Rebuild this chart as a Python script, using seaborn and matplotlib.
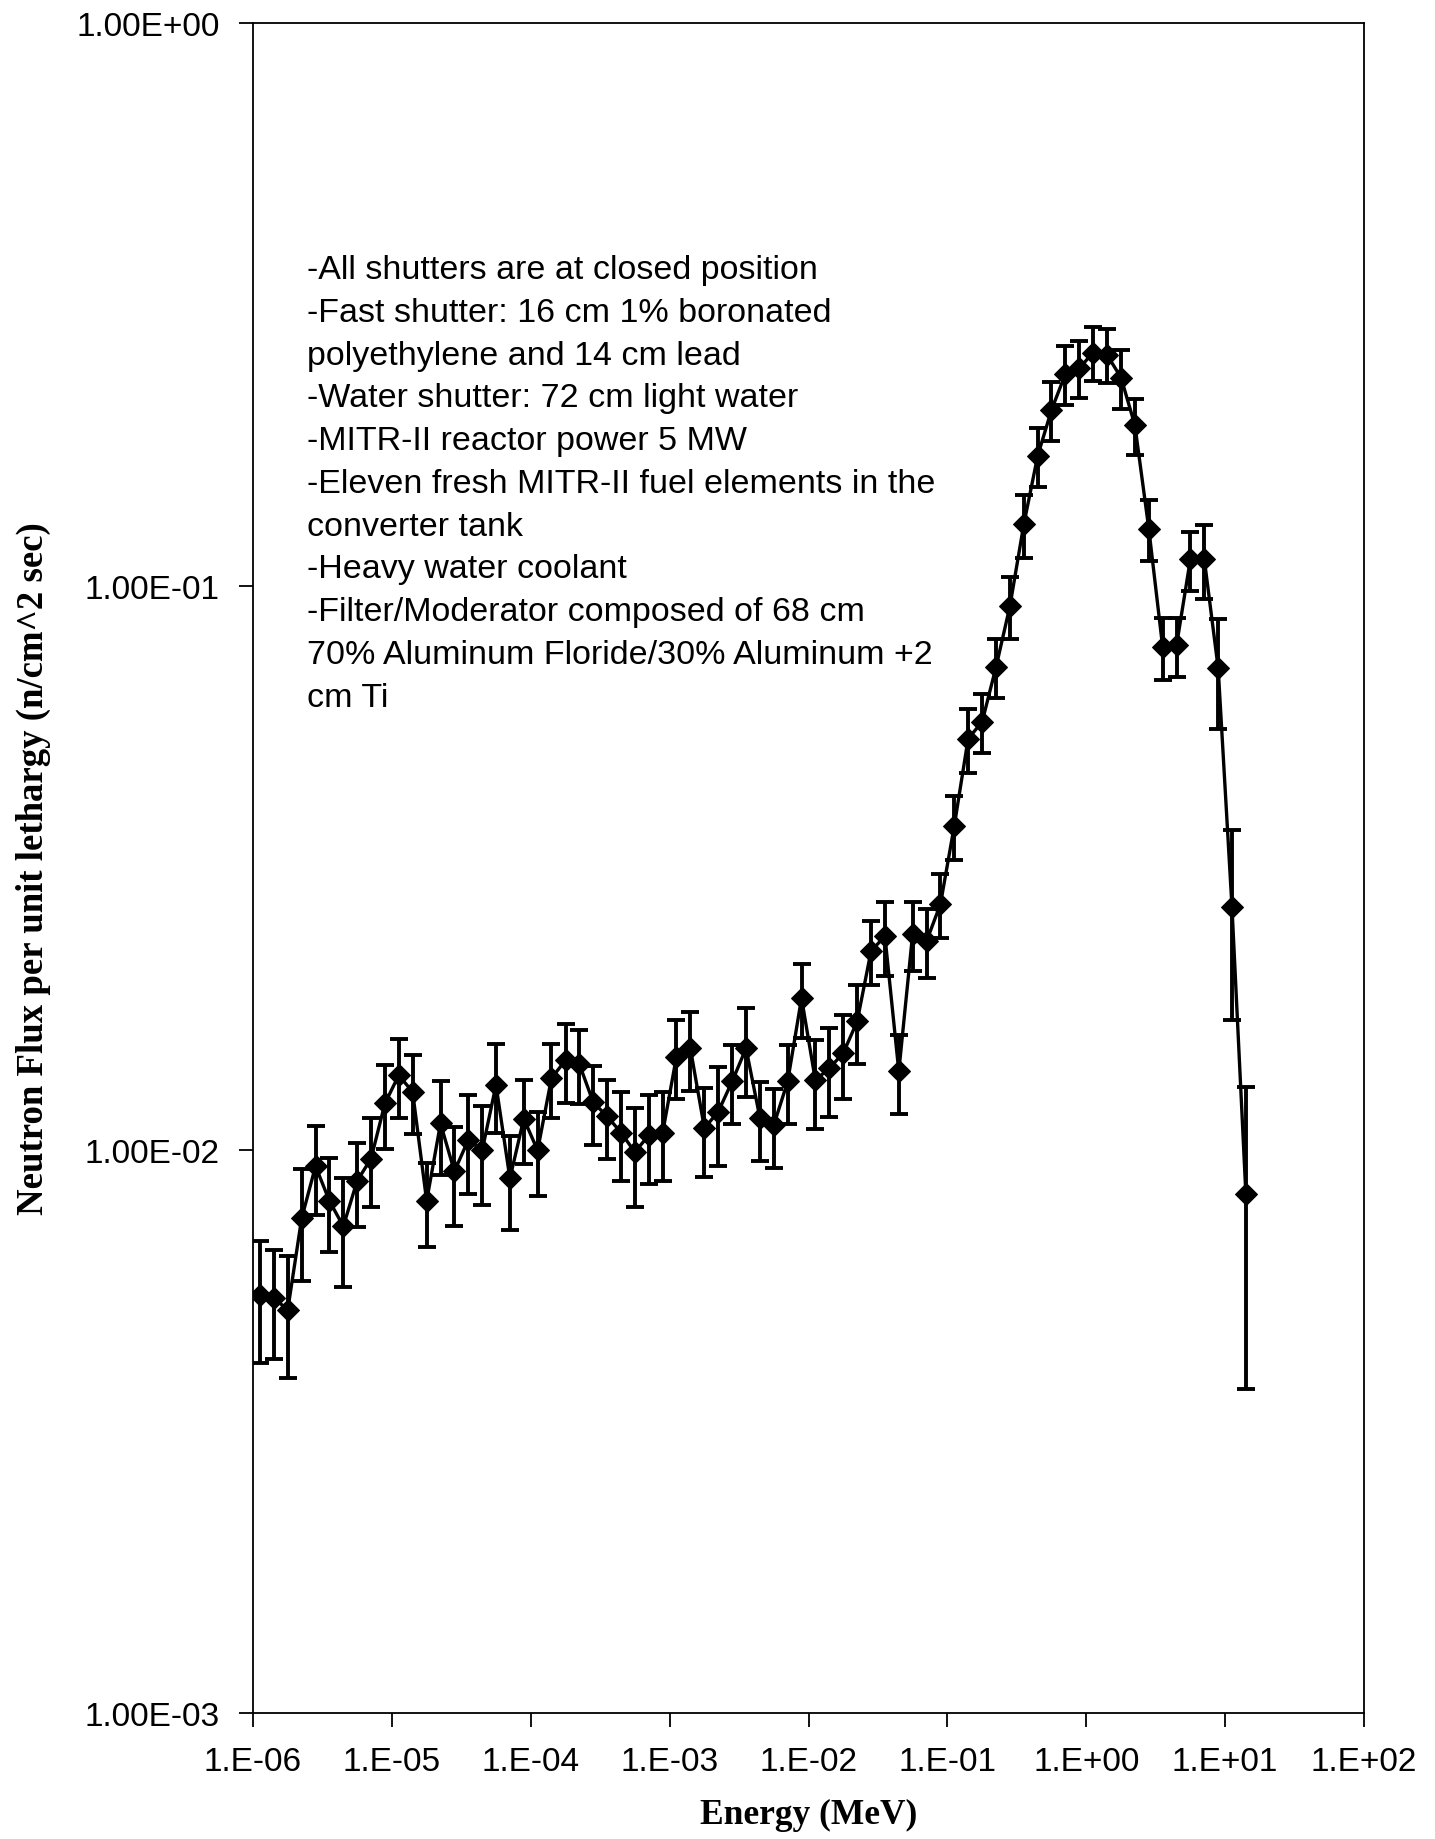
import matplotlib
matplotlib.use("Agg")
import matplotlib.pyplot as plt
from matplotlib.ticker import FixedLocator, FuncFormatter, NullLocator
import numpy as np
import pandas as pd
import seaborn as sns

# Bin-centre energies (MeV), ten bins per decade
energy_mev = [
    1.12e-06, 1.41e-06, 1.78e-06, 2.24e-06, 2.82e-06, 3.55e-06, 4.47e-06, 5.62e-06, 7.08e-06, 8.91e-06,
    1.12e-05, 1.41e-05, 1.78e-05, 2.24e-05, 2.82e-05, 3.55e-05, 4.47e-05, 5.62e-05, 7.08e-05, 8.91e-05,
    1.12e-04, 1.41e-04, 1.78e-04, 2.24e-04, 2.82e-04, 3.55e-04, 4.47e-04, 5.62e-04, 7.08e-04, 8.91e-04,
    1.12e-03, 1.41e-03, 1.78e-03, 2.24e-03, 2.82e-03, 3.55e-03, 4.47e-03, 5.62e-03, 7.08e-03, 8.91e-03,
    1.12e-02, 1.41e-02, 1.78e-02, 2.24e-02, 2.82e-02, 3.55e-02, 4.47e-02, 5.62e-02, 7.08e-02, 8.91e-02,
    1.12e-01, 1.41e-01, 1.78e-01, 2.24e-01, 2.82e-01, 3.55e-01, 4.47e-01, 5.62e-01, 7.08e-01, 8.91e-01,
    1.12e+00, 1.41e+00, 1.78e+00, 2.24e+00, 2.82e+00, 3.55e+00, 4.47e+00, 5.62e+00, 7.08e+00, 8.91e+00,
    1.12e+01, 1.41e+01,
]

# Neutron flux per unit lethargy (n/cm^2 sec)
flux = [
    5.53e-3, 5.45e-3, 5.20e-3, 7.55e-3, 9.35e-3, 8.11e-3, 7.31e-3, 8.80e-3, 9.64e-3, 1.208e-2,
    1.355e-2, 1.267e-2, 8.11e-3, 1.113e-2, 9.15e-3, 1.041e-2, 9.97e-3, 1.303e-2, 8.89e-3, 1.135e-2,
    9.97e-3, 1.339e-2, 1.442e-2, 1.418e-2, 1.213e-2, 1.146e-2, 1.072e-2, 9.90e-3, 1.061e-2, 1.072e-2,
    1.463e-2, 1.513e-2, 1.092e-2, 1.168e-2, 1.322e-2, 1.513e-2, 1.138e-2, 1.105e-2, 1.322e-2, 1.858e-2,
    1.329e-2, 1.394e-2, 1.484e-2, 1.689e-2, 2.25e-2, 2.395e-2, 1.377e-2, 2.414e-2, 2.345e-2, 2.727e-2,
    3.75e-2, 5.36e-2, 5.75e-2, 7.19e-2, 9.22e-2, 0.1288, 0.1705, 0.2056, 0.2384, 0.244,
    0.2598, 0.2577, 0.2347, 0.1932, 0.1266, 0.0780, 0.0786, 0.1117, 0.1117, 0.0716,
    0.0270, 0.00835,
]

# Relative (1-sigma) statistical uncertainty of each bin
rel_error = [
    0.245, 0.22, 0.245, 0.225, 0.18, 0.19, 0.22, 0.17, 0.18, 0.17,
    0.16, 0.16, 0.17, 0.19, 0.20, 0.20, 0.20, 0.18, 0.19, 0.17,
    0.17, 0.15, 0.16, 0.15, 0.16, 0.16, 0.18, 0.20, 0.18, 0.18,
    0.16, 0.16, 0.18, 0.20, 0.16, 0.18, 0.16, 0.16, 0.16, 0.15,
    0.18, 0.18, 0.17, 0.16, 0.13, 0.15, 0.16, 0.14, 0.14, 0.13,
    0.13, 0.13, 0.12, 0.12, 0.125, 0.13, 0.12, 0.12, 0.12, 0.115,
    0.11, 0.11, 0.12, 0.115, 0.125, 0.125, 0.12, 0.12, 0.15, 0.22,
    0.37, 0.55,
]

x_ticks = [1e-6, 1e-5, 1e-4, 1e-3, 1e-2, 1e-1, 1e0, 1e1, 1e2]
y_ticks = [1e-3, 1e-2, 1e-1, 1e0]

notes = [
    "-All shutters are at closed position",
    "-Fast shutter: 16 cm 1% boronated",
    "polyethylene and 14 cm lead",
    "-Water shutter: 72 cm light water",
    "-MITR-II reactor power 5 MW",
    "-Eleven fresh MITR-II fuel elements in the",
    "converter tank",
    "-Heavy water coolant",
    "-Filter/Moderator composed of 68 cm",
    "70% Aluminum Floride/30% Aluminum +2",
    "cm Ti",
]

df = pd.DataFrame({"energy": energy_mev, "flux": flux, "rel": rel_error})
df["err"] = df["flux"] * df["rel"]

sns.set_theme(style="ticks")
plt.rcParams["font.family"] = ["Liberation Sans", "DejaVu Sans"]

W, H = 1435, 1840
fig = plt.figure(figsize=(W / 100, H / 100), dpi=100)
left, right, top, bottom = 253, 1364, 24, 1714
ax = fig.add_axes([left / W, 1 - bottom / H, (right - left) / W, (bottom - top) / H])
ax.set_facecolor("white")

ax.set_xscale("log")
ax.set_yscale("log")

ax.errorbar(df["energy"], df["flux"], yerr=df["err"], fmt="none",
            ecolor="black", elinewidth=2.8, capsize=6.5, capthick=2.8, zorder=2)
sns.lineplot(data=df, x="energy", y="flux", ax=ax, color="black", linewidth=2.4,
             marker="D", markersize=11.5, markeredgecolor="black",
             markerfacecolor="black", zorder=3, legend=False)

ax.set_xlim(1e-6, 1e2)
ax.set_ylim(1e-3, 1e0)

ax.xaxis.set_major_locator(FixedLocator(x_ticks))
ax.yaxis.set_major_locator(FixedLocator(y_ticks))
ax.xaxis.set_minor_locator(NullLocator())
ax.yaxis.set_minor_locator(NullLocator())
ax.xaxis.set_major_formatter(FuncFormatter(lambda v, p: f"{v:#.0E}"))
ax.yaxis.set_major_formatter(FuncFormatter(lambda v, p: f"{v:.2E}"))

ax.tick_params(axis="both", which="major", direction="out", length=10, width=1.3,
               color="black", labelsize=24, labelcolor="black", pad=14)

for s in ax.spines.values():
    s.set_visible(True)
    s.set_color("black")
    s.set_linewidth(1.3)

label_font = dict(family=["Liberation Serif", "DejaVu Serif"], weight="bold", color="black")
ax.set_xlabel("Energy (MeV)", labelpad=15, size=25.5, **label_font)
ax.set_ylabel("Neutron Flux per unit lethargy (n/cm^2 sec)", labelpad=18, size=26.5, **label_font)

fig.text(307 / W, 1 - 255 / H, "\n".join(notes), ha="left", va="top",
         fontsize=24.5, linespacing=1.49, color="black",
         family=["Liberation Sans", "DejaVu Sans"])

fig.savefig("out.png", dpi=100, facecolor="white")
